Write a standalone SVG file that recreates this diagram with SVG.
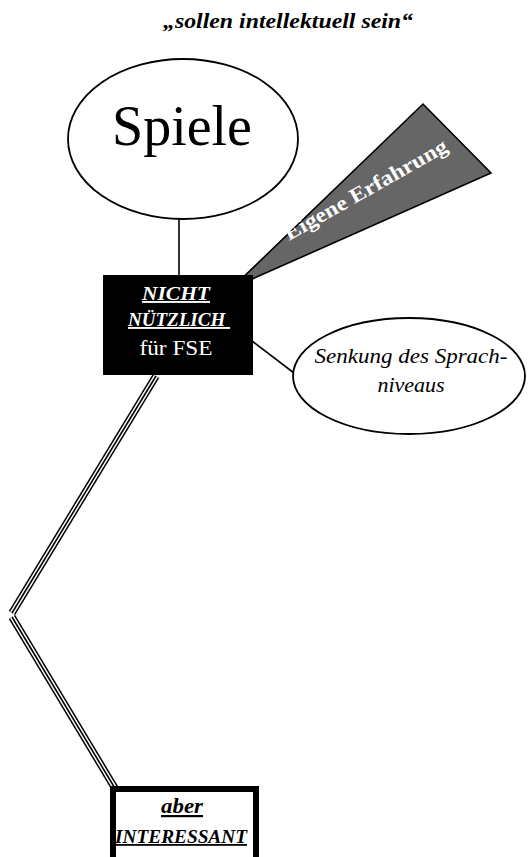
<svg xmlns="http://www.w3.org/2000/svg" width="528" height="857" viewBox="0 0 528 857">
<style>
text{font-family:"Liberation Serif","Times New Roman",serif}
.bi{font-weight:bold;font-style:italic}
.ul{text-decoration:underline}
.ln{stroke:#000;stroke-width:1.6;fill:none}
.outline{fill:#fff;stroke:#000;stroke-width:1.8}
</style>
<rect width="528" height="857" fill="#fff"/>
<g id="title">
<text class="bi" x="288" y="28" font-size="21" text-anchor="middle" textLength="250" lengthAdjust="spacingAndGlyphs">„sollen intellektuell sein“</text>
</g>
<g id="connectors">
<line class="ln" x1="179" y1="218" x2="179" y2="276"/>
<line class="ln" x1="252" y1="341" x2="294" y2="373"/>
<g fill="none" stroke-linejoin="miter">
<path d="M156,376 L12,613" stroke="#000" stroke-width="7.5"/>
<path d="M156,376 L12,613" stroke="#fff" stroke-width="4.5"/>
<path d="M156,376 L12,613" stroke="#000" stroke-width="1.6"/>
<path d="M12,617 L116,790" stroke="#000" stroke-width="7.5"/>
<path d="M12,617 L116,790" stroke="#fff" stroke-width="4.5"/>
<path d="M12,617 L116,790" stroke="#000" stroke-width="1.6"/>
</g>
</g>
<g id="spiele">
<ellipse class="outline" cx="183" cy="139" rx="115" ry="80"/>
<text x="182" y="145" font-size="56" text-anchor="middle">Spiele</text>
</g>
<g id="eigene-erfahrung">
<polygon points="232,288 423,104 491,173" fill="#666" stroke="#000" stroke-width="1.6" stroke-linejoin="miter"/>
<text font-weight="bold" font-size="21" fill="#fff" transform="translate(289,241) rotate(-29.5)" textLength="184" lengthAdjust="spacingAndGlyphs">Eigene Erfahrung</text>
</g>
<g id="nicht-nuetzlich">
<rect x="103" y="275" width="150" height="100" fill="#000"/>
<text class="bi ul" x="176" y="300" font-size="19" fill="#fff" text-anchor="middle" textLength="68" lengthAdjust="spacingAndGlyphs">NICHT</text>
<text class="bi ul" x="128" y="326" font-size="19" fill="#fff" xml:space="preserve" textLength="102" lengthAdjust="spacingAndGlyphs">NÜTZLICH </text>
<text x="176" y="355" font-size="22" fill="#fff" text-anchor="middle" textLength="73" lengthAdjust="spacingAndGlyphs">für FSE</text>
</g>
<g id="senkung">
<ellipse class="outline" cx="409" cy="376" rx="116" ry="58"/>
<text font-style="italic" x="411" y="363" font-size="22" text-anchor="middle" textLength="193" lengthAdjust="spacingAndGlyphs">Senkung des Sprach-</text>
<text font-style="italic" x="411" y="392" font-size="22" text-anchor="middle">niveaus</text>
</g>
<g id="aber-interessant">
<rect x="113" y="789" width="143" height="80" fill="#fff" stroke="#000" stroke-width="6"/>
<text class="bi ul" x="182" y="813" font-size="22" text-anchor="middle" textLength="42" lengthAdjust="spacingAndGlyphs">aber</text>
<text class="bi ul" x="181" y="843" font-size="18" text-anchor="middle" textLength="132" lengthAdjust="spacingAndGlyphs">INTERESSANT</text>
</g>
</svg>
